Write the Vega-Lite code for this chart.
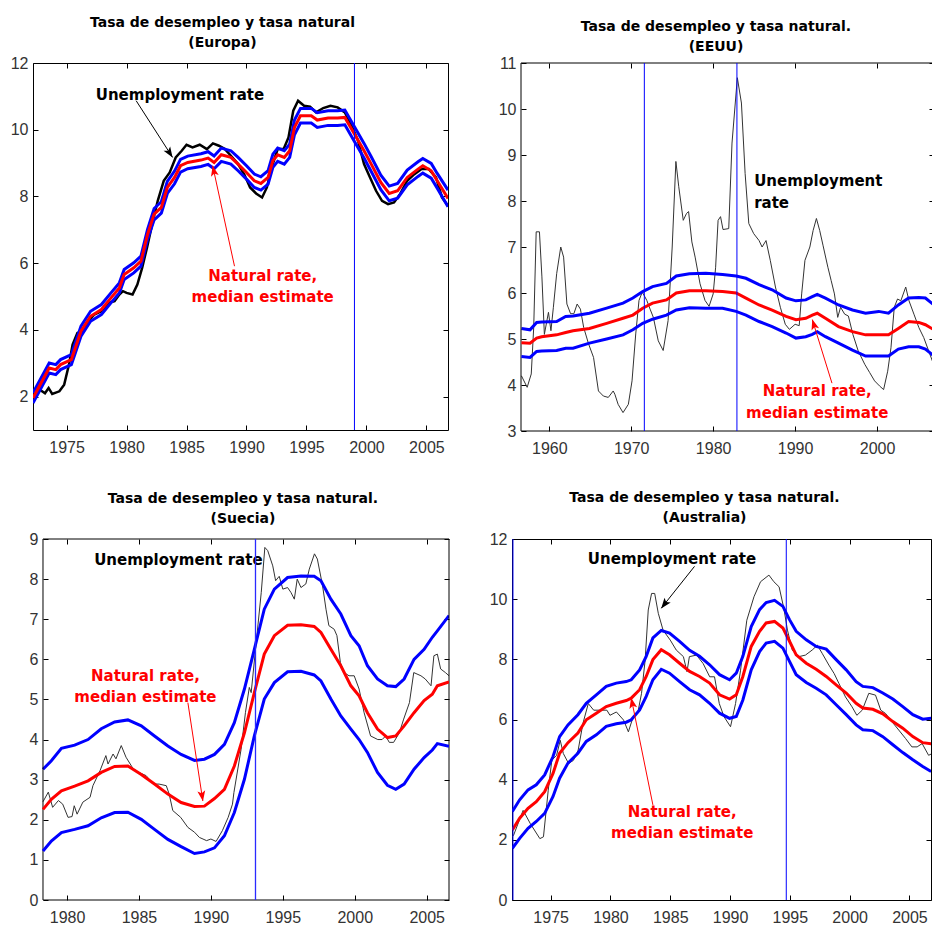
{
  "$schema": "https://vega.github.io/schema/vega-lite/v6.json",
  "padding": {"left": 0, "top": 15, "right": 0, "bottom": 0},
  "columns": 2,
  "spacing": {"row": 34, "column": 21},
  "config": {
    "font": "Liberation Sans",
    "view": {"stroke": "black", "strokeWidth": 1},
    "axis": {
      "domain": false, "grid": false, "ticks": true, "tickSize": -5, "tickColor": "black", "tickWidth": 1,
      "labelFont": "Liberation Sans", "labelFontSize": 16, "labelColor": "#333", "labelOverlap": false, "labelFlush": false
    },
    "axisBottom": {"labelPadding": 14},
    "axisLeft": {"labelPadding": 10},
    "axisTop": {"labels": false, "minExtent": 0, "maxExtent": 0},
    "axisRight": {"labels": false, "minExtent": 0, "maxExtent": 0},
    "title": {"font": "DejaVu Sans", "fontSize": 14, "fontWeight": "bold", "color": "black", "lineHeight": 20, "frame": "group", "anchor": "middle"}
  },
  "datasets": {
    "eu_unemp": [
      {"year": 1972.2, "rate": 2.06}, {"year": 1972.8, "rate": 2.2}, {"year": 1973.2, "rate": 2.1}, {"year": 1973.5, "rate": 2.26},
      {"year": 1973.8, "rate": 2.08}, {"year": 1974.4, "rate": 2.16}, {"year": 1974.8, "rate": 2.36}, {"year": 1975.2, "rate": 2.96},
      {"year": 1975.5, "rate": 3.56}, {"year": 1975.9, "rate": 3.91}, {"year": 1976.3, "rate": 3.96}, {"year": 1976.8, "rate": 4.26},
      {"year": 1977.3, "rate": 4.46}, {"year": 1977.9, "rate": 4.56}, {"year": 1978.5, "rate": 4.81}, {"year": 1979.0, "rate": 4.86},
      {"year": 1979.4, "rate": 5.06}, {"year": 1979.7, "rate": 5.16}, {"year": 1980.0, "rate": 5.11}, {"year": 1980.5, "rate": 5.06},
      {"year": 1980.9, "rate": 5.36}, {"year": 1981.3, "rate": 5.86}, {"year": 1981.7, "rate": 6.46}, {"year": 1982.2, "rate": 7.27},
      {"year": 1982.6, "rate": 7.87}, {"year": 1983.1, "rate": 8.47}, {"year": 1983.6, "rate": 8.72}, {"year": 1984.1, "rate": 9.17},
      {"year": 1984.6, "rate": 9.37}, {"year": 1985.0, "rate": 9.55}, {"year": 1985.5, "rate": 9.47}, {"year": 1986.1, "rate": 9.55},
      {"year": 1986.7, "rate": 9.42}, {"year": 1987.2, "rate": 9.59}, {"year": 1987.7, "rate": 9.52}, {"year": 1988.2, "rate": 9.42},
      {"year": 1988.7, "rate": 9.22}, {"year": 1989.3, "rate": 8.97}, {"year": 1989.8, "rate": 8.67}, {"year": 1990.3, "rate": 8.27},
      {"year": 1990.8, "rate": 8.09}, {"year": 1991.3, "rate": 7.97}, {"year": 1991.7, "rate": 8.27}, {"year": 1992.1, "rate": 8.87},
      {"year": 1992.6, "rate": 9.42}, {"year": 1993.1, "rate": 9.42}, {"year": 1993.5, "rate": 9.77}, {"year": 1993.9, "rate": 10.57},
      {"year": 1994.3, "rate": 10.87}, {"year": 1994.8, "rate": 10.72}, {"year": 1995.3, "rate": 10.69}, {"year": 1995.8, "rate": 10.52},
      {"year": 1996.4, "rate": 10.65}, {"year": 1997.0, "rate": 10.72}, {"year": 1997.6, "rate": 10.67}, {"year": 1998.2, "rate": 10.52},
      {"year": 1998.7, "rate": 10.17}, {"year": 1999.3, "rate": 9.67}, {"year": 1999.8, "rate": 8.97}, {"year": 2000.3, "rate": 8.57},
      {"year": 2000.8, "rate": 8.17}, {"year": 2001.3, "rate": 7.87}, {"year": 2001.8, "rate": 7.77}, {"year": 2002.3, "rate": 7.82},
      {"year": 2002.8, "rate": 8.07}, {"year": 2003.4, "rate": 8.47}, {"year": 2004.0, "rate": 8.67}, {"year": 2004.6, "rate": 8.82},
      {"year": 2005.2, "rate": 8.82}, {"year": 2005.8, "rate": 8.57}, {"year": 2006.3, "rate": 7.97}, {"year": 2006.8, "rate": 7.72}
    ],
    "eu_nat": [
      {"year": 1972.2, "lower": 1.81, "median": 1.96, "upper": 2.11},
      {"year": 1973.55, "lower": 2.71, "median": 2.86, "upper": 3.01},
      {"year": 1974.1, "lower": 2.66, "median": 2.81, "upper": 2.96},
      {"year": 1974.5, "lower": 2.81, "median": 2.96, "upper": 3.11},
      {"year": 1975.4, "lower": 2.96, "median": 3.11, "upper": 3.26},
      {"year": 1976.2, "lower": 3.81, "median": 3.96, "upper": 4.11},
      {"year": 1977.0, "lower": 4.26, "median": 4.41, "upper": 4.56},
      {"year": 1977.9, "lower": 4.46, "median": 4.61, "upper": 4.76},
      {"year": 1978.7, "lower": 4.81, "median": 4.96, "upper": 5.11},
      {"year": 1979.4, "lower": 5.11, "median": 5.26, "upper": 5.41},
      {"year": 1979.8, "lower": 5.51, "median": 5.66, "upper": 5.81},
      {"year": 1980.6, "lower": 5.71, "median": 5.86, "upper": 6.01},
      {"year": 1981.2, "lower": 5.91, "median": 6.06, "upper": 6.21},
      {"year": 1981.75, "lower": 6.71, "median": 6.86, "upper": 7.01},
      {"year": 1982.3, "lower": 7.3, "median": 7.47, "upper": 7.64},
      {"year": 1982.9, "lower": 7.5, "median": 7.67, "upper": 7.84},
      {"year": 1983.4, "lower": 8.09, "median": 8.27, "upper": 8.45},
      {"year": 1984.0, "lower": 8.38, "median": 8.57, "upper": 8.76},
      {"year": 1984.5, "lower": 8.73, "median": 8.92, "upper": 9.11},
      {"year": 1985.1, "lower": 8.83, "median": 9.02, "upper": 9.21},
      {"year": 1986.2, "lower": 8.9, "median": 9.09, "upper": 9.28},
      {"year": 1986.8, "lower": 8.96, "median": 9.15, "upper": 9.34},
      {"year": 1987.3, "lower": 8.83, "median": 9.02, "upper": 9.21},
      {"year": 1987.9, "lower": 9.05, "median": 9.25, "upper": 9.45},
      {"year": 1988.7, "lower": 8.97, "median": 9.17, "upper": 9.37},
      {"year": 1989.3, "lower": 8.77, "median": 8.97, "upper": 9.17},
      {"year": 1990.0, "lower": 8.52, "median": 8.72, "upper": 8.92},
      {"year": 1990.65, "lower": 8.27, "median": 8.47, "upper": 8.67},
      {"year": 1991.2, "lower": 8.19, "median": 8.39, "upper": 8.59},
      {"year": 1991.8, "lower": 8.37, "median": 8.57, "upper": 8.77},
      {"year": 1992.2, "lower": 8.87, "median": 9.07, "upper": 9.27},
      {"year": 1992.6, "lower": 9.05, "median": 9.25, "upper": 9.45},
      {"year": 1993.15, "lower": 8.97, "median": 9.17, "upper": 9.37},
      {"year": 1993.6, "lower": 9.17, "median": 9.37, "upper": 9.57},
      {"year": 1994.0, "lower": 9.85, "median": 10.07, "upper": 10.29},
      {"year": 1994.5, "lower": 10.2, "median": 10.42, "upper": 10.64},
      {"year": 1995.4, "lower": 10.2, "median": 10.42, "upper": 10.64},
      {"year": 1995.9, "lower": 10.07, "median": 10.29, "upper": 10.51},
      {"year": 1996.8, "lower": 10.13, "median": 10.35, "upper": 10.57},
      {"year": 1997.6, "lower": 10.13, "median": 10.35, "upper": 10.57},
      {"year": 1998.2, "lower": 10.15, "median": 10.37, "upper": 10.59},
      {"year": 1999.0, "lower": 9.65, "median": 9.87, "upper": 10.09},
      {"year": 1999.8, "lower": 9.15, "median": 9.37, "upper": 9.59},
      {"year": 2000.4, "lower": 8.75, "median": 8.97, "upper": 9.19},
      {"year": 2001.2, "lower": 8.2, "median": 8.42, "upper": 8.64},
      {"year": 2001.9, "lower": 7.87, "median": 8.09, "upper": 8.31},
      {"year": 2002.6, "lower": 7.95, "median": 8.17, "upper": 8.39},
      {"year": 2003.4, "lower": 8.35, "median": 8.57, "upper": 8.79},
      {"year": 2004.3, "lower": 8.6, "median": 8.82, "upper": 9.04},
      {"year": 2004.7, "lower": 8.7, "median": 8.92, "upper": 9.14},
      {"year": 2005.4, "lower": 8.55, "median": 8.77, "upper": 8.99},
      {"year": 2005.9, "lower": 8.25, "median": 8.47, "upper": 8.69},
      {"year": 2006.8, "lower": 7.69, "median": 7.94, "upper": 8.19}
    ],
    "eu_breaks": [{"year": 1999.0}],
    "eu_notes": [
      {"year": 1984.45, "rate": 11.05, "label": "Unemployment rate", "kind": "unemp"},
      {"year": 1991.35, "rate": 5.63, "label": "Natural rate,", "kind": "natural"},
      {"year": 1991.35, "rate": 4.98, "label": "median estimate", "kind": "natural"}
    ],
    "eu_arrows": [
      {"year": 1980.8, "rate": 10.87, "year2": 1983.84, "rate2": 9.17, "headYear": 1983.6, "headRate": 9.3, "kind": "unemp"},
      {"year": 1989.0, "rate": 5.91, "year2": 1987.18, "rate2": 8.92, "headYear": 1987.27, "headRate": 8.77, "kind": "natural"}
    ],
    "us_unemp": [
      {"year": 1956.6, "rate": 4.2}, {"year": 1957.3, "rate": 3.95}, {"year": 1957.8, "rate": 4.24}, {"year": 1958.1, "rate": 5.25},
      {"year": 1958.4, "rate": 7.33}, {"year": 1958.8, "rate": 7.33}, {"year": 1959.1, "rate": 6.35}, {"year": 1959.4, "rate": 5.1},
      {"year": 1959.9, "rate": 5.58}, {"year": 1960.2, "rate": 5.18}, {"year": 1960.5, "rate": 5.69}, {"year": 1960.9, "rate": 6.42},
      {"year": 1961.4, "rate": 7.0}, {"year": 1961.75, "rate": 6.78}, {"year": 1962.15, "rate": 5.76}, {"year": 1962.6, "rate": 5.55},
      {"year": 1963.0, "rate": 5.55}, {"year": 1963.4, "rate": 5.76}, {"year": 1963.8, "rate": 5.65}, {"year": 1964.2, "rate": 5.25},
      {"year": 1964.8, "rate": 4.89}, {"year": 1965.4, "rate": 4.6}, {"year": 1966.0, "rate": 3.87}, {"year": 1966.6, "rate": 3.76},
      {"year": 1967.2, "rate": 3.73}, {"year": 1967.8, "rate": 3.87}, {"year": 1968.0, "rate": 3.8}, {"year": 1968.4, "rate": 3.58},
      {"year": 1969.0, "rate": 3.4}, {"year": 1969.65, "rate": 3.58}, {"year": 1970.1, "rate": 4.09}, {"year": 1970.55, "rate": 5.11},
      {"year": 1970.95, "rate": 5.84}, {"year": 1971.35, "rate": 6.02}, {"year": 1971.9, "rate": 5.84}, {"year": 1972.3, "rate": 5.65},
      {"year": 1972.7, "rate": 5.47}, {"year": 1973.3, "rate": 4.96}, {"year": 1973.9, "rate": 4.75}, {"year": 1974.5, "rate": 5.4},
      {"year": 1975.0, "rate": 7.0}, {"year": 1975.45, "rate": 8.86}, {"year": 1975.8, "rate": 8.31}, {"year": 1976.35, "rate": 7.58},
      {"year": 1976.75, "rate": 7.73}, {"year": 1977.0, "rate": 7.77}, {"year": 1977.4, "rate": 7.11}, {"year": 1977.8, "rate": 6.78},
      {"year": 1978.4, "rate": 6.2}, {"year": 1979.0, "rate": 5.84}, {"year": 1979.5, "rate": 5.71}, {"year": 1980.0, "rate": 5.98},
      {"year": 1980.3, "rate": 6.56}, {"year": 1980.6, "rate": 7.58}, {"year": 1980.9, "rate": 7.66}, {"year": 1981.2, "rate": 7.38},
      {"year": 1981.9, "rate": 7.4}, {"year": 1982.3, "rate": 9.26}, {"year": 1982.95, "rate": 10.68}, {"year": 1983.45, "rate": 10.13},
      {"year": 1983.9, "rate": 8.6}, {"year": 1984.35, "rate": 7.51}, {"year": 1984.95, "rate": 7.29}, {"year": 1985.6, "rate": 7.14},
      {"year": 1985.97, "rate": 7.0}, {"year": 1986.45, "rate": 7.14}, {"year": 1986.97, "rate": 6.71}, {"year": 1987.6, "rate": 6.13},
      {"year": 1988.2, "rate": 5.69}, {"year": 1988.8, "rate": 5.32}, {"year": 1989.3, "rate": 5.21}, {"year": 1990.0, "rate": 5.32},
      {"year": 1990.5, "rate": 5.29}, {"year": 1990.8, "rate": 5.98}, {"year": 1991.2, "rate": 6.71}, {"year": 1991.8, "rate": 7.0},
      {"year": 1992.2, "rate": 7.36}, {"year": 1992.6, "rate": 7.62}, {"year": 1993.0, "rate": 7.36}, {"year": 1993.4, "rate": 7.04},
      {"year": 1994.0, "rate": 6.56}, {"year": 1994.4, "rate": 6.27}, {"year": 1994.8, "rate": 5.98}, {"year": 1995.2, "rate": 5.47},
      {"year": 1995.55, "rate": 5.69}, {"year": 1996.05, "rate": 5.54}, {"year": 1996.5, "rate": 5.5}, {"year": 1997.05, "rate": 5.1},
      {"year": 1997.7, "rate": 4.74}, {"year": 1998.5, "rate": 4.45}, {"year": 1999.1, "rate": 4.27}, {"year": 1999.7, "rate": 4.09},
      {"year": 2000.3, "rate": 3.98}, {"year": 2000.8, "rate": 3.9}, {"year": 2001.3, "rate": 4.3}, {"year": 2001.7, "rate": 4.81},
      {"year": 2002.1, "rate": 5.69}, {"year": 2002.5, "rate": 5.87}, {"year": 2002.9, "rate": 5.83}, {"year": 2003.5, "rate": 6.13},
      {"year": 2003.9, "rate": 5.83}, {"year": 2004.5, "rate": 5.54}, {"year": 2005.1, "rate": 5.25}, {"year": 2005.7, "rate": 5.03},
      {"year": 2006.3, "rate": 4.74}, {"year": 2006.9, "rate": 4.45}
    ],
    "us_nat": [
      {"year": 1956.6, "lower": 4.62, "median": 4.92, "upper": 5.23},
      {"year": 1957.65, "lower": 4.6, "median": 4.91, "upper": 5.2},
      {"year": 1958.46, "lower": 4.73, "median": 5.02, "upper": 5.36},
      {"year": 1959.07, "lower": 4.74, "median": 5.05, "upper": 5.37},
      {"year": 1960.9, "lower": 4.75, "median": 5.09, "upper": 5.38},
      {"year": 1962.0, "lower": 4.8, "median": 5.14, "upper": 5.49},
      {"year": 1962.9, "lower": 4.8, "median": 5.18, "upper": 5.5},
      {"year": 1964.9, "lower": 4.91, "median": 5.23, "upper": 5.56},
      {"year": 1967.0, "lower": 5.0, "median": 5.34, "upper": 5.67},
      {"year": 1969.0, "lower": 5.09, "median": 5.45, "upper": 5.78},
      {"year": 1970.2, "lower": 5.2, "median": 5.52, "upper": 5.89},
      {"year": 1971.4, "lower": 5.34, "median": 5.67, "upper": 6.03},
      {"year": 1972.6, "lower": 5.43, "median": 5.78, "upper": 6.14},
      {"year": 1974.3, "lower": 5.52, "median": 5.85, "upper": 6.21},
      {"year": 1975.5, "lower": 5.63, "median": 6.0, "upper": 6.37},
      {"year": 1977.1, "lower": 5.68, "median": 6.05, "upper": 6.42},
      {"year": 1979.1, "lower": 5.67, "median": 6.05, "upper": 6.43},
      {"year": 1981.15, "lower": 5.67, "median": 6.03, "upper": 6.4},
      {"year": 1982.8, "lower": 5.6, "median": 6.0, "upper": 6.37},
      {"year": 1984.0, "lower": 5.52, "median": 5.89, "upper": 6.32},
      {"year": 1985.6, "lower": 5.38, "median": 5.74, "upper": 6.18},
      {"year": 1987.2, "lower": 5.27, "median": 5.63, "upper": 6.07},
      {"year": 1988.9, "lower": 5.13, "median": 5.49, "upper": 5.89},
      {"year": 1990.1, "lower": 5.02, "median": 5.42, "upper": 5.83},
      {"year": 1991.3, "lower": 5.05, "median": 5.45, "upper": 5.85},
      {"year": 1992.1, "lower": 5.1, "median": 5.52, "upper": 5.92},
      {"year": 1992.7, "lower": 5.16, "median": 5.56, "upper": 5.97},
      {"year": 1993.7, "lower": 5.05, "median": 5.45, "upper": 5.89},
      {"year": 1995.3, "lower": 4.91, "median": 5.27, "upper": 5.74},
      {"year": 1997.0, "lower": 4.76, "median": 5.16, "upper": 5.63},
      {"year": 1998.6, "lower": 4.63, "median": 5.09, "upper": 5.56},
      {"year": 2000.2, "lower": 4.63, "median": 5.09, "upper": 5.6},
      {"year": 2001.4, "lower": 4.63, "median": 5.09, "upper": 5.56},
      {"year": 2002.6, "lower": 4.78, "median": 5.23, "upper": 5.74},
      {"year": 2003.85, "lower": 4.83, "median": 5.38, "upper": 5.89},
      {"year": 2005.1, "lower": 4.83, "median": 5.36, "upper": 5.9},
      {"year": 2005.9, "lower": 4.78, "median": 5.31, "upper": 5.89},
      {"year": 2006.95, "lower": 4.63, "median": 5.2, "upper": 5.74}
    ],
    "us_frame": [{"year": 1956.55, "year2": 2006.95, "rate": 3, "rate2": 11}],
    "us_breaks": [{"year": 1971.6}, {"year": 1982.9}],
    "us_notes": [
      {"year": 1985.0, "rate": 8.43, "label": "Unemployment", "kind": "unemp"},
      {"year": 1985.0, "rate": 7.95, "label": "rate", "kind": "unemp"},
      {"year": 1992.7, "rate": 3.86, "label": "Natural rate,", "kind": "natural"},
      {"year": 1992.7, "rate": 3.39, "label": "median estimate", "kind": "natural"}
    ],
    "us_arrows": [
      {"year": 1994.5, "rate": 4.04, "year2": 1992.1, "rate2": 5.42, "headYear": 1992.28, "headRate": 5.32, "kind": "natural"}
    ],
    "se_unemp": [
      {"year": 1978.33, "rate": 2.45}, {"year": 1978.7, "rate": 2.69}, {"year": 1979.0, "rate": 2.31}, {"year": 1979.4, "rate": 2.48},
      {"year": 1979.7, "rate": 2.39}, {"year": 1980.07, "rate": 2.06}, {"year": 1980.35, "rate": 2.08}, {"year": 1980.5, "rate": 2.35},
      {"year": 1980.7, "rate": 2.14}, {"year": 1981.1, "rate": 2.44}, {"year": 1981.6, "rate": 2.56}, {"year": 1981.8, "rate": 2.85},
      {"year": 1982.3, "rate": 3.23}, {"year": 1982.7, "rate": 3.6}, {"year": 1982.85, "rate": 3.39}, {"year": 1983.2, "rate": 3.64},
      {"year": 1983.4, "rate": 3.52}, {"year": 1983.77, "rate": 3.85}, {"year": 1984.1, "rate": 3.56}, {"year": 1984.6, "rate": 3.27},
      {"year": 1985.0, "rate": 3.18}, {"year": 1985.5, "rate": 3.1}, {"year": 1986.0, "rate": 2.89}, {"year": 1986.4, "rate": 2.89},
      {"year": 1986.9, "rate": 2.85}, {"year": 1987.1, "rate": 2.64}, {"year": 1987.35, "rate": 2.23}, {"year": 1987.9, "rate": 2.06},
      {"year": 1988.4, "rate": 1.81}, {"year": 1988.86, "rate": 1.69}, {"year": 1989.2, "rate": 1.56}, {"year": 1989.7, "rate": 1.48},
      {"year": 1990.0, "rate": 1.52}, {"year": 1990.36, "rate": 1.46}, {"year": 1990.8, "rate": 1.73}, {"year": 1991.2, "rate": 2.06},
      {"year": 1991.5, "rate": 2.39}, {"year": 1991.6, "rate": 2.68}, {"year": 1992.1, "rate": 3.76}, {"year": 1992.4, "rate": 4.67},
      {"year": 1992.67, "rate": 5.3}, {"year": 1992.8, "rate": 5.17}, {"year": 1993.15, "rate": 6.42}, {"year": 1993.5, "rate": 7.67},
      {"year": 1993.75, "rate": 8.79}, {"year": 1993.95, "rate": 8.71}, {"year": 1994.3, "rate": 8.33}, {"year": 1994.5, "rate": 7.96},
      {"year": 1994.75, "rate": 8.07}, {"year": 1995.0, "rate": 7.75}, {"year": 1995.33, "rate": 7.79}, {"year": 1995.56, "rate": 7.67},
      {"year": 1995.8, "rate": 7.5}, {"year": 1996.0, "rate": 8.0}, {"year": 1996.26, "rate": 7.79}, {"year": 1996.6, "rate": 7.88},
      {"year": 1996.84, "rate": 8.25}, {"year": 1997.2, "rate": 8.63}, {"year": 1997.4, "rate": 8.5}, {"year": 1997.76, "rate": 7.84},
      {"year": 1998.0, "rate": 7.25}, {"year": 1998.2, "rate": 6.84}, {"year": 1998.57, "rate": 6.75}, {"year": 1998.76, "rate": 6.59},
      {"year": 1999.0, "rate": 5.92}, {"year": 1999.26, "rate": 5.67}, {"year": 1999.6, "rate": 5.59}, {"year": 1999.96, "rate": 5.59},
      {"year": 2000.3, "rate": 5.26}, {"year": 2000.65, "rate": 4.67}, {"year": 2001.1, "rate": 4.09}, {"year": 2001.6, "rate": 4.0},
      {"year": 2001.9, "rate": 4.0}, {"year": 2002.15, "rate": 4.09}, {"year": 2002.4, "rate": 3.93}, {"year": 2002.7, "rate": 3.93},
      {"year": 2003.1, "rate": 4.17}, {"year": 2003.4, "rate": 4.51}, {"year": 2003.8, "rate": 4.92}, {"year": 2004.1, "rate": 5.67},
      {"year": 2004.6, "rate": 5.59}, {"year": 2004.9, "rate": 5.51}, {"year": 2005.3, "rate": 5.34}, {"year": 2005.5, "rate": 6.09},
      {"year": 2005.74, "rate": 6.13}, {"year": 2005.97, "rate": 5.76}, {"year": 2006.3, "rate": 5.67}, {"year": 2006.55, "rate": 5.59}
    ],
    "se_nat": [
      {"year": 1978.33, "lower": 1.22, "median": 2.26, "upper": 3.26},
      {"year": 1978.91, "lower": 1.47, "median": 2.51, "upper": 3.47},
      {"year": 1979.61, "lower": 1.68, "median": 2.72, "upper": 3.78},
      {"year": 1980.53, "lower": 1.76, "median": 2.84, "upper": 3.86},
      {"year": 1981.46, "lower": 1.85, "median": 2.97, "upper": 4.0},
      {"year": 1982.38, "lower": 2.05, "median": 3.18, "upper": 4.27},
      {"year": 1983.31, "lower": 2.18, "median": 3.33, "upper": 4.44},
      {"year": 1984.23, "lower": 2.19, "median": 3.34, "upper": 4.49},
      {"year": 1985.16, "lower": 2.01, "median": 3.13, "upper": 4.34},
      {"year": 1986.08, "lower": 1.76, "median": 2.89, "upper": 4.09},
      {"year": 1987.01, "lower": 1.51, "median": 2.64, "upper": 3.84},
      {"year": 1987.93, "lower": 1.33, "median": 2.43, "upper": 3.63},
      {"year": 1988.86, "lower": 1.16, "median": 2.33, "upper": 3.48},
      {"year": 1989.55, "lower": 1.2, "median": 2.34, "upper": 3.51},
      {"year": 1990.25, "lower": 1.3, "median": 2.53, "upper": 3.63},
      {"year": 1990.94, "lower": 1.6, "median": 2.76, "upper": 3.88},
      {"year": 1991.63, "lower": 2.18, "median": 3.34, "upper": 4.42},
      {"year": 1992.33, "lower": 3.01, "median": 4.17, "upper": 5.26},
      {"year": 1993.02, "lower": 4.09, "median": 5.17, "upper": 6.25},
      {"year": 1993.71, "lower": 5.01, "median": 6.13, "upper": 7.25},
      {"year": 1994.41, "lower": 5.42, "median": 6.59, "upper": 7.75},
      {"year": 1995.33, "lower": 5.69, "median": 6.85, "upper": 8.04},
      {"year": 1996.26, "lower": 5.7, "median": 6.86, "upper": 8.08},
      {"year": 1997.18, "lower": 5.61, "median": 6.82, "upper": 8.07},
      {"year": 1997.65, "lower": 5.46, "median": 6.67, "upper": 7.96},
      {"year": 1998.34, "lower": 5.01, "median": 6.25, "upper": 7.5},
      {"year": 1999.03, "lower": 4.59, "median": 5.84, "upper": 7.13},
      {"year": 1999.73, "lower": 4.26, "median": 5.34, "upper": 6.59},
      {"year": 2000.3, "lower": 4.0, "median": 5.09, "upper": 6.34},
      {"year": 2000.88, "lower": 3.68, "median": 4.67, "upper": 5.84},
      {"year": 2001.58, "lower": 3.18, "median": 4.26, "upper": 5.51},
      {"year": 2002.27, "lower": 2.86, "median": 4.05, "upper": 5.34},
      {"year": 2002.85, "lower": 2.76, "median": 4.09, "upper": 5.32},
      {"year": 2003.43, "lower": 2.89, "median": 4.34, "upper": 5.51},
      {"year": 2004.12, "lower": 3.26, "median": 4.67, "upper": 6.0},
      {"year": 2004.82, "lower": 3.55, "median": 4.97, "upper": 6.25},
      {"year": 2005.39, "lower": 3.74, "median": 5.13, "upper": 6.55},
      {"year": 2005.74, "lower": 3.9, "median": 5.34, "upper": 6.71},
      {"year": 2006.55, "lower": 3.83, "median": 5.44, "upper": 7.09}
    ],
    "se_frame": [{"year": 1978.33, "year2": 2006.55, "rate": 0, "rate2": 9}],
    "se_breaks": [{"year": 1993.1}],
    "se_notes": [
      {"year": 1987.74, "rate": 8.48, "label": "Unemployment rate", "kind": "unemp"},
      {"year": 1985.45, "rate": 5.59, "label": "Natural rate,", "kind": "natural"},
      {"year": 1985.45, "rate": 5.05, "label": "median estimate", "kind": "natural"}
    ],
    "se_arrows": [
      {"year": 1988.4, "rate": 4.92, "year2": 1989.44, "rate2": 2.47, "headYear": 1989.39, "headRate": 2.59, "kind": "natural"}
    ],
    "au_unemp": [
      {"year": 1971.8, "rate": 2.1}, {"year": 1971.9, "rate": 2.15}, {"year": 1972.7, "rate": 2.98}, {"year": 1973.3, "rate": 2.54},
      {"year": 1974.1, "rate": 2.04}, {"year": 1974.4, "rate": 2.1}, {"year": 1974.8, "rate": 3.65}, {"year": 1975.1, "rate": 4.65},
      {"year": 1975.5, "rate": 4.81}, {"year": 1975.8, "rate": 5.31}, {"year": 1976.06, "rate": 4.87}, {"year": 1976.5, "rate": 4.54},
      {"year": 1976.9, "rate": 4.64}, {"year": 1977.3, "rate": 4.98}, {"year": 1977.7, "rate": 5.87}, {"year": 1978.15, "rate": 6.53},
      {"year": 1978.6, "rate": 6.31}, {"year": 1979.1, "rate": 6.31}, {"year": 1979.7, "rate": 6.31}, {"year": 1979.96, "rate": 6.14},
      {"year": 1980.5, "rate": 6.25}, {"year": 1981.1, "rate": 5.98}, {"year": 1981.5, "rate": 5.59}, {"year": 1981.9, "rate": 6.09},
      {"year": 1982.3, "rate": 6.25}, {"year": 1982.6, "rate": 6.87}, {"year": 1982.9, "rate": 7.97}, {"year": 1983.16, "rate": 9.64},
      {"year": 1983.44, "rate": 10.19}, {"year": 1983.7, "rate": 10.19}, {"year": 1984.0, "rate": 9.53}, {"year": 1984.4, "rate": 8.97},
      {"year": 1985.0, "rate": 8.64}, {"year": 1985.5, "rate": 8.31}, {"year": 1986.1, "rate": 8.09}, {"year": 1986.4, "rate": 7.59},
      {"year": 1986.6, "rate": 8.09}, {"year": 1987.2, "rate": 8.14}, {"year": 1987.75, "rate": 7.86}, {"year": 1988.3, "rate": 7.42},
      {"year": 1988.7, "rate": 7.42}, {"year": 1989.1, "rate": 6.53}, {"year": 1989.5, "rate": 6.09}, {"year": 1990.04, "rate": 5.76},
      {"year": 1990.46, "rate": 6.53}, {"year": 1990.88, "rate": 7.64}, {"year": 1991.4, "rate": 9.3}, {"year": 1992.0, "rate": 10.08},
      {"year": 1992.55, "rate": 10.58}, {"year": 1993.25, "rate": 10.8}, {"year": 1993.66, "rate": 10.58}, {"year": 1994.1, "rate": 10.41},
      {"year": 1994.5, "rate": 9.69}, {"year": 1994.8, "rate": 8.97}, {"year": 1995.2, "rate": 8.31}, {"year": 1995.75, "rate": 8.09},
      {"year": 1996.3, "rate": 8.14}, {"year": 1996.87, "rate": 8.31}, {"year": 1997.3, "rate": 8.47}, {"year": 1997.7, "rate": 8.2},
      {"year": 1998.26, "rate": 7.81}, {"year": 1998.7, "rate": 7.53}, {"year": 1999.1, "rate": 7.2}, {"year": 1999.65, "rate": 6.75},
      {"year": 2000.2, "rate": 6.42}, {"year": 2000.6, "rate": 6.14}, {"year": 2001.05, "rate": 6.31}, {"year": 2001.6, "rate": 6.87},
      {"year": 2002.16, "rate": 6.81}, {"year": 2002.6, "rate": 6.31}, {"year": 2003.0, "rate": 6.2}, {"year": 2003.55, "rate": 5.92},
      {"year": 2004.1, "rate": 5.65}, {"year": 2004.67, "rate": 5.37}, {"year": 2005.2, "rate": 5.09}, {"year": 2005.64, "rate": 5.09},
      {"year": 2006.06, "rate": 5.2}, {"year": 2006.6, "rate": 4.81}, {"year": 2006.8, "rate": 4.85}
    ],
    "au_nat": [
      {"year": 1971.8, "lower": 1.72, "median": 2.33, "upper": 2.94},
      {"year": 1972.41, "lower": 2.05, "median": 2.72, "upper": 3.33},
      {"year": 1973.11, "lower": 2.38, "median": 3.05, "upper": 3.66},
      {"year": 1973.8, "lower": 2.61, "median": 3.27, "upper": 3.83},
      {"year": 1974.5, "lower": 2.88, "median": 3.6, "upper": 4.16},
      {"year": 1975.2, "lower": 3.44, "median": 4.21, "upper": 4.77},
      {"year": 1975.75, "lower": 4.05, "median": 4.88, "upper": 5.43},
      {"year": 1976.45, "lower": 4.55, "median": 5.23, "upper": 5.82},
      {"year": 1977.28, "lower": 4.88, "median": 5.55, "upper": 6.16},
      {"year": 1977.98, "lower": 5.27, "median": 5.99, "upper": 6.54},
      {"year": 1978.82, "lower": 5.49, "median": 6.21, "upper": 6.82},
      {"year": 1979.65, "lower": 5.77, "median": 6.43, "upper": 7.1},
      {"year": 1980.49, "lower": 5.86, "median": 6.54, "upper": 7.21},
      {"year": 1981.32, "lower": 5.91, "median": 6.63, "upper": 7.26},
      {"year": 1981.74, "lower": 5.99, "median": 6.71, "upper": 7.32},
      {"year": 1982.44, "lower": 6.32, "median": 6.99, "upper": 7.65},
      {"year": 1982.99, "lower": 6.77, "median": 7.43, "upper": 8.1},
      {"year": 1983.55, "lower": 7.32, "median": 7.99, "upper": 8.71},
      {"year": 1984.25, "lower": 7.67, "median": 8.32, "upper": 8.96},
      {"year": 1984.94, "lower": 7.54, "median": 8.15, "upper": 8.87},
      {"year": 1985.78, "lower": 7.26, "median": 7.87, "upper": 8.6},
      {"year": 1986.62, "lower": 6.99, "median": 7.6, "upper": 8.3},
      {"year": 1987.45, "lower": 6.82, "median": 7.43, "upper": 8.1},
      {"year": 1988.29, "lower": 6.54, "median": 7.21, "upper": 7.82},
      {"year": 1989.12, "lower": 6.21, "median": 6.82, "upper": 7.49},
      {"year": 1989.96, "lower": 6.04, "median": 6.68, "upper": 7.32},
      {"year": 1990.52, "lower": 6.1, "median": 6.82, "upper": 7.54},
      {"year": 1991.07, "lower": 6.65, "median": 7.43, "upper": 8.1},
      {"year": 1991.77, "lower": 7.65, "median": 8.43, "upper": 9.09},
      {"year": 1992.47, "lower": 8.26, "median": 8.93, "upper": 9.65},
      {"year": 1993.02, "lower": 8.54, "median": 9.21, "upper": 9.89},
      {"year": 1993.72, "lower": 8.6, "median": 9.26, "upper": 9.96},
      {"year": 1994.42, "lower": 8.37, "median": 9.04, "upper": 9.76},
      {"year": 1994.97, "lower": 7.93, "median": 8.6, "upper": 9.32},
      {"year": 1995.53, "lower": 7.49, "median": 8.15, "upper": 8.93},
      {"year": 1996.37, "lower": 7.23, "median": 7.87, "upper": 8.65},
      {"year": 1997.2, "lower": 7.04, "median": 7.67, "upper": 8.43},
      {"year": 1998.04, "lower": 6.82, "median": 7.43, "upper": 8.34},
      {"year": 1998.87, "lower": 6.49, "median": 7.15, "upper": 7.99},
      {"year": 1999.71, "lower": 6.16, "median": 6.88, "upper": 7.65},
      {"year": 2000.54, "lower": 5.82, "median": 6.54, "upper": 7.26},
      {"year": 2001.1, "lower": 5.66, "median": 6.38, "upper": 7.1},
      {"year": 2001.94, "lower": 5.63, "median": 6.34, "upper": 7.06},
      {"year": 2002.77, "lower": 5.43, "median": 6.19, "upper": 6.88},
      {"year": 2003.61, "lower": 5.16, "median": 5.93, "upper": 6.68},
      {"year": 2004.44, "lower": 4.9, "median": 5.71, "upper": 6.43},
      {"year": 2005.28, "lower": 4.66, "median": 5.43, "upper": 6.16},
      {"year": 2006.11, "lower": 4.44, "median": 5.23, "upper": 6.01},
      {"year": 2006.81, "lower": 4.27, "median": 5.19, "upper": 6.04}
    ],
    "au_breaks": [{"year": 1971.85}, {"year": 1994.7}],
    "au_notes": [
      {"year": 1985.15, "rate": 11.33, "label": "Unemployment rate", "kind": "unemp"},
      {"year": 1986.0, "rate": 2.92, "label": "Natural rate,", "kind": "natural"},
      {"year": 1986.0, "rate": 2.22, "label": "median estimate", "kind": "natural"}
    ],
    "au_arrows": [
      {"year": 1987.03, "rate": 11.09, "year2": 1984.25, "rate2": 9.7, "headYear": 1984.51, "headRate": 9.83, "kind": "unemp"},
      {"year": 1983.55, "rate": 3.16, "year2": 1981.74, "rate2": 6.71, "headYear": 1981.82, "headRate": 6.55, "kind": "natural"}
    ]
  },
  "concat": [
    {
      "width": 415, "height": 367,
      "title": {"text": ["Tasa de desempleo y tasa natural", "(Europa)"], "dx": -18, "offset": 5},
      "resolve": {"axis": {"x": "independent", "y": "independent"}},
      "layer": [
        {
          "data": {"name": "eu_unemp"},
          "mark": {"type": "line", "color": "black", "strokeWidth": 2.5, "clip": true},
          "encoding": {
            "x": {"field": "year", "type": "quantitative", "scale": {"domain": [1972.2, 2006.8], "nice": false, "zero": false},
                  "axis": {"orient": "bottom", "values": [1975, 1980, 1985, 1990, 1995, 2000, 2005], "format": "d", "title": null, "minExtent": 24, "maxExtent": 24}},
            "y": {"field": "rate", "type": "quantitative", "scale": {"domain": [1, 12], "nice": false, "zero": false},
                  "axis": {"orient": "left", "values": [2, 4, 6, 8, 10, 12], "title": null, "minExtent": 32, "maxExtent": 32}}
          }
        },
        {
          "data": {"name": "eu_nat"},
          "mark": {"type": "line", "color": "#0000ff", "strokeWidth": 3, "clip": true},
          "encoding": {
            "x": {"field": "year", "type": "quantitative", "axis": {"orient": "top", "values": [1975, 1980, 1985, 1990, 1995, 2000, 2005], "title": null}},
            "y": {"field": "upper", "type": "quantitative", "axis": {"orient": "right", "values": [2, 4, 6, 8, 10, 12], "title": null}}
          }
        },
        {
          "data": {"name": "eu_nat"},
          "mark": {"type": "line", "color": "#0000ff", "strokeWidth": 3, "clip": true},
          "encoding": {
            "x": {"field": "year", "type": "quantitative", "axis": null},
            "y": {"field": "lower", "type": "quantitative", "axis": null}
          }
        },
        {
          "data": {"name": "eu_nat"},
          "mark": {"type": "line", "color": "#ff0000", "strokeWidth": 3, "clip": true},
          "encoding": {
            "x": {"field": "year", "type": "quantitative", "axis": null},
            "y": {"field": "median", "type": "quantitative", "axis": null}
          }
        },
        {
          "data": {"name": "eu_breaks"},
          "mark": {"type": "rule", "color": "#0000ff", "strokeWidth": 1},
          "encoding": {"x": {"field": "year", "type": "quantitative", "axis": null}}
        },
        {
          "data": {"name": "eu_notes"},
          "transform": [{"filter": "datum.kind === 'unemp'"}],
          "mark": {"type": "text", "font": "DejaVu Sans", "fontWeight": "bold", "fontSize": 15, "color": "black", "align": "center", "baseline": "middle"},
          "encoding": {
            "x": {"field": "year", "type": "quantitative", "axis": null},
            "y": {"field": "rate", "type": "quantitative", "axis": null},
            "text": {"field": "label"}
          }
        },
        {
          "data": {"name": "eu_notes"},
          "transform": [{"filter": "datum.kind === 'natural'"}],
          "mark": {"type": "text", "font": "DejaVu Sans", "fontWeight": "bold", "fontSize": 15, "color": "#ff0000", "align": "center", "baseline": "middle"},
          "encoding": {
            "x": {"field": "year", "type": "quantitative", "axis": null},
            "y": {"field": "rate", "type": "quantitative", "axis": null},
            "text": {"field": "label"}
          }
        },
        {
          "data": {"name": "eu_arrows"},
          "transform": [{"filter": "datum.kind === 'unemp'"}],
          "mark": {"type": "rule", "color": "black", "strokeWidth": 1},
          "encoding": {
            "x": {"field": "year", "type": "quantitative", "axis": null}, "y": {"field": "rate", "type": "quantitative", "axis": null},
            "x2": {"field": "year2"}, "y2": {"field": "rate2"}
          }
        },
        {
          "data": {"name": "eu_arrows"},
          "transform": [{"filter": "datum.kind === 'natural'"}],
          "mark": {"type": "rule", "color": "#ff0000", "strokeWidth": 1},
          "encoding": {
            "x": {"field": "year", "type": "quantitative", "axis": null}, "y": {"field": "rate", "type": "quantitative", "axis": null},
            "x2": {"field": "year2"}, "y2": {"field": "rate2"}
          }
        },
        {
          "data": {"name": "eu_arrows"},
          "transform": [{"filter": "datum.kind === 'unemp'"}],
          "mark": {"type": "point", "shape": "M0,-1L0.75,1L0,0.55L-0.75,1Z", "filled": true, "opacity": 1, "size": 110, "angle": 147, "color": "black"},
          "encoding": {"x": {"field": "headYear", "type": "quantitative", "axis": null}, "y": {"field": "headRate", "type": "quantitative", "axis": null}}
        },
        {
          "data": {"name": "eu_arrows"},
          "transform": [{"filter": "datum.kind === 'natural'"}],
          "mark": {"type": "point", "shape": "M0,-1L0.75,1L0,0.55L-0.75,1Z", "filled": true, "opacity": 1, "size": 110, "angle": 348, "color": "#ff0000"},
          "encoding": {"x": {"field": "headYear", "type": "quantitative", "axis": null}, "y": {"field": "headRate", "type": "quantitative", "axis": null}}
        }
      ]
    },
    {
      "width": 422, "height": 368,
      "view": {"stroke": null},
      "title": {"text": ["Tasa de desempleo y tasa natural.", "(EEUU)"], "dx": -7, "offset": 1},
      "resolve": {"axis": {"x": "independent", "y": "independent"}},
      "layer": [
        {
          "data": {"name": "us_unemp"},
          "mark": {"type": "line", "color": "#333333", "strokeWidth": 1, "clip": true},
          "encoding": {
            "x": {"field": "year", "type": "quantitative", "scale": {"domain": [1955.45, 2006.95], "nice": false, "zero": false},
                  "axis": {"orient": "bottom", "values": [1960, 1970, 1980, 1990, 2000], "format": "d", "title": null, "minExtent": 24, "maxExtent": 24}},
            "y": {"field": "rate", "type": "quantitative", "scale": {"domain": [3, 11], "nice": false, "zero": false},
                  "axis": {"orient": "left", "offset": -9, "values": [3, 4, 5, 6, 7, 8, 9, 10, 11], "title": null, "minExtent": 40, "maxExtent": 40}}
          }
        },
        {
          "data": {"name": "us_nat"},
          "mark": {"type": "line", "color": "#0000ff", "strokeWidth": 3, "clip": true},
          "encoding": {
            "x": {"field": "year", "type": "quantitative", "axis": {"orient": "top", "values": [1960, 1970, 1980, 1990, 2000], "title": null}},
            "y": {"field": "upper", "type": "quantitative", "axis": {"orient": "right", "values": [3, 4, 5, 6, 7, 8, 9, 10, 11], "title": null}}
          }
        },
        {
          "data": {"name": "us_frame"},
          "mark": {"type": "rect", "fill": null, "stroke": "black", "strokeWidth": 1},
          "encoding": {
            "x": {"field": "year", "type": "quantitative", "axis": null}, "x2": {"field": "year2"},
            "y": {"field": "rate", "type": "quantitative", "axis": null}, "y2": {"field": "rate2"}
          }
        },
        {
          "data": {"name": "us_nat"},
          "mark": {"type": "line", "color": "#0000ff", "strokeWidth": 3, "clip": true},
          "encoding": {
            "x": {"field": "year", "type": "quantitative", "axis": null},
            "y": {"field": "lower", "type": "quantitative", "axis": null}
          }
        },
        {
          "data": {"name": "us_nat"},
          "mark": {"type": "line", "color": "#ff0000", "strokeWidth": 3, "clip": true},
          "encoding": {
            "x": {"field": "year", "type": "quantitative", "axis": null},
            "y": {"field": "median", "type": "quantitative", "axis": null}
          }
        },
        {
          "data": {"name": "us_breaks"},
          "mark": {"type": "rule", "color": "#0000ff", "strokeWidth": 1},
          "encoding": {"x": {"field": "year", "type": "quantitative", "axis": null}}
        },
        {
          "data": {"name": "us_notes"},
          "transform": [{"filter": "datum.kind === 'unemp'"}],
          "mark": {"type": "text", "font": "DejaVu Sans", "fontWeight": "bold", "fontSize": 15, "color": "black", "align": "left", "baseline": "middle"},
          "encoding": {
            "x": {"field": "year", "type": "quantitative", "axis": null},
            "y": {"field": "rate", "type": "quantitative", "axis": null},
            "text": {"field": "label"}
          }
        },
        {
          "data": {"name": "us_notes"},
          "transform": [{"filter": "datum.kind === 'natural'"}],
          "mark": {"type": "text", "font": "DejaVu Sans", "fontWeight": "bold", "fontSize": 15, "color": "#ff0000", "align": "center", "baseline": "middle"},
          "encoding": {
            "x": {"field": "year", "type": "quantitative", "axis": null},
            "y": {"field": "rate", "type": "quantitative", "axis": null},
            "text": {"field": "label"}
          }
        },
        {
          "data": {"name": "us_arrows"},
          "mark": {"type": "rule", "color": "#ff0000", "strokeWidth": 1},
          "encoding": {
            "x": {"field": "year", "type": "quantitative", "axis": null}, "y": {"field": "rate", "type": "quantitative", "axis": null},
            "x2": {"field": "year2"}, "y2": {"field": "rate2"}
          }
        },
        {
          "data": {"name": "us_arrows"},
          "mark": {"type": "point", "shape": "M0,-1L0.75,1L0,0.55L-0.75,1Z", "filled": true, "opacity": 1, "size": 110, "angle": 343, "color": "#ff0000"},
          "encoding": {"x": {"field": "headYear", "type": "quantitative", "axis": null}, "y": {"field": "headRate", "type": "quantitative", "axis": null}}
        }
      ]
    },
    {
      "width": 416, "height": 361,
      "view": {"stroke": null},
      "title": {"text": ["Tasa de desempleo y tasa natural.", "(Suecia)"], "dx": 2, "offset": 5},
      "resolve": {"axis": {"x": "independent", "y": "independent"}},
      "layer": [
        {
          "data": {"name": "se_unemp"},
          "mark": {"type": "line", "color": "#333333", "strokeWidth": 1, "clip": true},
          "encoding": {
            "x": {"field": "year", "type": "quantitative", "scale": {"domain": [1977.635, 2006.55], "nice": false, "zero": false},
                  "axis": {"orient": "bottom", "values": [1980, 1985, 1990, 1995, 2000, 2005], "format": "d", "title": null, "minExtent": 22, "maxExtent": 22}},
            "y": {"field": "rate", "type": "quantitative", "scale": {"domain": [0, 9], "nice": false, "zero": false},
                  "axis": {"orient": "left", "offset": -10, "values": [0, 1, 2, 3, 4, 5, 6, 7, 8, 9], "title": null, "minExtent": 32, "maxExtent": 32}}
          }
        },
        {
          "data": {"name": "se_nat"},
          "mark": {"type": "line", "color": "#0000ff", "strokeWidth": 3, "clip": true},
          "encoding": {
            "x": {"field": "year", "type": "quantitative", "axis": {"orient": "top", "values": [1980, 1985, 1990, 1995, 2000, 2005], "title": null}},
            "y": {"field": "upper", "type": "quantitative", "axis": {"orient": "right", "values": [0, 1, 2, 3, 4, 5, 6, 7, 8, 9], "title": null}}
          }
        },
        {
          "data": {"name": "se_frame"},
          "mark": {"type": "rect", "fill": null, "stroke": "black", "strokeWidth": 1},
          "encoding": {
            "x": {"field": "year", "type": "quantitative", "axis": null}, "x2": {"field": "year2"},
            "y": {"field": "rate", "type": "quantitative", "axis": null}, "y2": {"field": "rate2"}
          }
        },
        {
          "data": {"name": "se_nat"},
          "mark": {"type": "line", "color": "#0000ff", "strokeWidth": 3, "clip": true},
          "encoding": {
            "x": {"field": "year", "type": "quantitative", "axis": null},
            "y": {"field": "lower", "type": "quantitative", "axis": null}
          }
        },
        {
          "data": {"name": "se_nat"},
          "mark": {"type": "line", "color": "#ff0000", "strokeWidth": 3, "clip": true},
          "encoding": {
            "x": {"field": "year", "type": "quantitative", "axis": null},
            "y": {"field": "median", "type": "quantitative", "axis": null}
          }
        },
        {
          "data": {"name": "se_notes"},
          "transform": [{"filter": "datum.kind === 'unemp'"}],
          "mark": {"type": "text", "font": "DejaVu Sans", "fontWeight": "bold", "fontSize": 15, "color": "black", "align": "center", "baseline": "middle"},
          "encoding": {
            "x": {"field": "year", "type": "quantitative", "axis": null},
            "y": {"field": "rate", "type": "quantitative", "axis": null},
            "text": {"field": "label"}
          }
        },
        {
          "data": {"name": "se_notes"},
          "transform": [{"filter": "datum.kind === 'natural'"}],
          "mark": {"type": "text", "font": "DejaVu Sans", "fontWeight": "bold", "fontSize": 15, "color": "#ff0000", "align": "center", "baseline": "middle"},
          "encoding": {
            "x": {"field": "year", "type": "quantitative", "axis": null},
            "y": {"field": "rate", "type": "quantitative", "axis": null},
            "text": {"field": "label"}
          }
        },
        {
          "data": {"name": "se_arrows"},
          "mark": {"type": "rule", "color": "#ff0000", "strokeWidth": 1},
          "encoding": {
            "x": {"field": "year", "type": "quantitative", "axis": null}, "y": {"field": "rate", "type": "quantitative", "axis": null},
            "x2": {"field": "year2"}, "y2": {"field": "rate2"}
          }
        },
        {
          "data": {"name": "se_arrows"},
          "mark": {"type": "point", "shape": "M0,-1L0.75,1L0,0.55L-0.75,1Z", "filled": true, "opacity": 1, "size": 110, "angle": 171, "color": "#ff0000"},
          "encoding": {"x": {"field": "headYear", "type": "quantitative", "axis": null}, "y": {"field": "headRate", "type": "quantitative", "axis": null}}
        },
        {
          "data": {"name": "se_breaks"},
          "mark": {"type": "rule", "stroke": "#2a2aff", "strokeWidth": 1.3, "opacity": 1},
          "encoding": {"x": {"field": "year", "type": "quantitative", "axis": null}}
        }
      ]
    },
    {
      "width": 419, "height": 361,
      "title": {"text": ["Tasa de desempleo y tasa natural.", "(Australia)"], "dx": -17, "offset": 6.5},
      "resolve": {"axis": {"x": "independent", "y": "independent"}},
      "layer": [
        {
          "data": {"name": "au_unemp"},
          "mark": {"type": "line", "color": "#333333", "strokeWidth": 1, "clip": true},
          "encoding": {
            "x": {"field": "year", "type": "quantitative", "scale": {"domain": [1971.77, 2006.8], "nice": false, "zero": false},
                  "axis": {"orient": "bottom", "values": [1975, 1980, 1985, 1990, 1995, 2000, 2005], "format": "d", "title": null, "minExtent": 22, "maxExtent": 22}},
            "y": {"field": "rate", "type": "quantitative", "scale": {"domain": [0, 12], "nice": false, "zero": false},
                  "axis": {"orient": "left", "values": [0, 2, 4, 6, 8, 10, 12], "title": null, "minExtent": 40, "maxExtent": 40}}
          }
        },
        {
          "data": {"name": "au_nat"},
          "mark": {"type": "line", "color": "#0000ff", "strokeWidth": 3, "clip": true},
          "encoding": {
            "x": {"field": "year", "type": "quantitative", "axis": {"orient": "top", "values": [1975, 1980, 1985, 1990, 1995, 2000, 2005], "title": null}},
            "y": {"field": "upper", "type": "quantitative", "axis": {"orient": "right", "values": [0, 2, 4, 6, 8, 10, 12], "title": null}}
          }
        },
        {
          "data": {"name": "au_nat"},
          "mark": {"type": "line", "color": "#0000ff", "strokeWidth": 3, "clip": true},
          "encoding": {
            "x": {"field": "year", "type": "quantitative", "axis": null},
            "y": {"field": "lower", "type": "quantitative", "axis": null}
          }
        },
        {
          "data": {"name": "au_nat"},
          "mark": {"type": "line", "color": "#ff0000", "strokeWidth": 3, "clip": true},
          "encoding": {
            "x": {"field": "year", "type": "quantitative", "axis": null},
            "y": {"field": "median", "type": "quantitative", "axis": null}
          }
        },
        {
          "data": {"name": "au_breaks"},
          "mark": {"type": "rule", "color": "#0000ff", "strokeWidth": 1},
          "encoding": {"x": {"field": "year", "type": "quantitative", "axis": null}}
        },
        {
          "data": {"name": "au_notes"},
          "transform": [{"filter": "datum.kind === 'unemp'"}],
          "mark": {"type": "text", "font": "DejaVu Sans", "fontWeight": "bold", "fontSize": 15, "color": "black", "align": "center", "baseline": "middle"},
          "encoding": {
            "x": {"field": "year", "type": "quantitative", "axis": null},
            "y": {"field": "rate", "type": "quantitative", "axis": null},
            "text": {"field": "label"}
          }
        },
        {
          "data": {"name": "au_notes"},
          "transform": [{"filter": "datum.kind === 'natural'"}],
          "mark": {"type": "text", "font": "DejaVu Sans", "fontWeight": "bold", "fontSize": 15, "color": "#ff0000", "align": "center", "baseline": "middle"},
          "encoding": {
            "x": {"field": "year", "type": "quantitative", "axis": null},
            "y": {"field": "rate", "type": "quantitative", "axis": null},
            "text": {"field": "label"}
          }
        },
        {
          "data": {"name": "au_arrows"},
          "transform": [{"filter": "datum.kind === 'unemp'"}],
          "mark": {"type": "rule", "color": "black", "strokeWidth": 1},
          "encoding": {
            "x": {"field": "year", "type": "quantitative", "axis": null}, "y": {"field": "rate", "type": "quantitative", "axis": null},
            "x2": {"field": "year2"}, "y2": {"field": "rate2"}
          }
        },
        {
          "data": {"name": "au_arrows"},
          "transform": [{"filter": "datum.kind === 'natural'"}],
          "mark": {"type": "rule", "color": "#ff0000", "strokeWidth": 1},
          "encoding": {
            "x": {"field": "year", "type": "quantitative", "axis": null}, "y": {"field": "rate", "type": "quantitative", "axis": null},
            "x2": {"field": "year2"}, "y2": {"field": "rate2"}
          }
        },
        {
          "data": {"name": "au_arrows"},
          "transform": [{"filter": "datum.kind === 'unemp'"}],
          "mark": {"type": "point", "shape": "M0,-1L0.75,1L0,0.55L-0.75,1Z", "filled": true, "opacity": 1, "size": 110, "angle": 218, "color": "black"},
          "encoding": {"x": {"field": "headYear", "type": "quantitative", "axis": null}, "y": {"field": "headRate", "type": "quantitative", "axis": null}}
        },
        {
          "data": {"name": "au_arrows"},
          "transform": [{"filter": "datum.kind === 'natural'"}],
          "mark": {"type": "point", "shape": "M0,-1L0.75,1L0,0.55L-0.75,1Z", "filled": true, "opacity": 1, "size": 110, "angle": 348, "color": "#ff0000"},
          "encoding": {"x": {"field": "headYear", "type": "quantitative", "axis": null}, "y": {"field": "headRate", "type": "quantitative", "axis": null}}
        }
      ]
    }
  ]
}
